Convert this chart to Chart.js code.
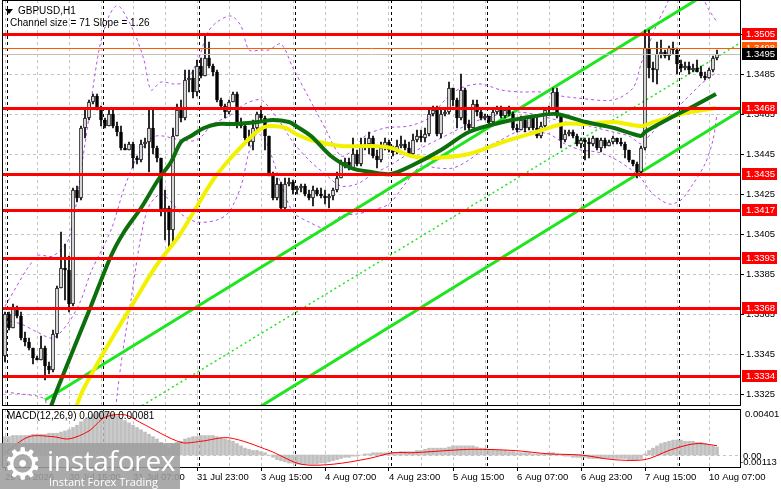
<!DOCTYPE html>
<html>
<head>
<meta charset="utf-8">
<title>GBPUSD H1</title>
<script src="https://cdn.jsdelivr.net/npm/chart.js@4.4.1/dist/chart.umd.min.js"></script>
<style>
  html, body { margin: 0; padding: 0; background: #fff; }
  #wrap { position: relative; width: 781px; height: 489px; overflow: hidden; font-family: "Liberation Sans", Arial, sans-serif; }
  canvas { position: absolute; left: 0; }
  #main { top: 0; }
  #macd { top: 407px; }
  .txt { position: absolute; font-size: 10px; line-height: 12px; color: #000; white-space: nowrap; }
  #tri { position: absolute; left: 5px; top: 9px; width: 0; height: 0; border-left: 4px solid transparent; border-right: 4px solid transparent; border-top: 5px solid #000; }
  #logo { position: absolute; left: 0; top: 443px; width: 180px; height: 46px; background: rgba(158,158,158,0.88); color: #fff; }
  #logo .gear { position: absolute; left: 3px; top: -4px; font-family: "DejaVu Sans"; font-size: 44px; line-height: 50px; }
  #logo .brand { position: absolute; left: 47px; top: 0px; font-family: "Open Sans"; font-size: 28px; line-height: 34px; letter-spacing: -0.3px; }
  #logo .slogan { position: absolute; left: 49px; top: 32px; font-family: "Open Sans"; font-size: 11px; line-height: 13px; }
</style>
</head>
<body>
<div id="wrap">
  <canvas id="main" width="781" height="407"></canvas>
  <canvas id="macd" width="781" height="82"></canvas>
  <div id="tri"></div>
  <div class="txt" style="left:18px;top:5px">GBPUSD,H1</div>
  <div class="txt" style="left:10px;top:17px">Channel size = 71 Slope = 1.26</div>
  <div class="txt" style="left:7px;top:410px">MACD(12,26,9) 0.00070 0.00081</div>
  <div id="logo">
    <div class="gear">&#9881;</div>
    <div class="brand">instaforex</div>
    <div class="slogan">Instant Forex Trading</div>
  </div>
</div>
<script>
// H1 candles, bar 0 = 29 Jul 23:00
const firstOpen = 1.3344;
const closes = [
  1.3365,1.3358,1.3368,1.3364,1.3353,1.3351,1.3348,1.3343,1.3342,1.3348,
  1.3339,1.3337,1.3355,1.3378,1.3388,1.3387,1.3370,1.3427,1.3423,1.3458,
  1.3463,1.3471,1.3474,1.3468,1.3462,1.3459,1.3465,1.3459,1.3456,1.3448,
  1.3447,1.3450,1.3443,1.3442,1.3450,1.3451,1.3458,1.3448,1.3443,1.3417,
  1.3418,1.3407,1.3454,1.3467,1.3463,1.3482,1.3483,1.3476,1.3489,1.3484,
  1.3493,1.3489,1.3486,1.3472,1.3469,1.3466,1.3471,1.3475,1.3460,1.3459,
  1.3453,1.3451,1.3458,1.3465,1.3463,1.3454,1.3435,1.3423,1.3430,1.3418,
  1.3430,1.3431,1.3427,1.3428,1.3429,1.3425,1.3423,1.3427,1.3425,1.3424,
  1.3423,1.3424,1.3427,1.3433,1.3440,1.3441,1.3438,1.3445,1.3440,1.3449,
  1.3450,1.3453,1.3444,1.3442,1.3448,1.3451,1.3447,1.3446,1.3449,1.3450,
  1.3448,1.3445,1.3452,1.3454,1.3453,1.3455,1.3465,1.3467,1.3455,1.3465,
  1.3466,1.3478,1.3472,1.3463,1.3477,1.3460,1.3458,1.3470,1.3466,1.3463,
  1.3464,1.3461,1.3466,1.3468,1.3464,1.3467,1.3465,1.3458,1.3457,1.3462,
  1.3458,1.3463,1.3458,1.3454,1.3459,1.3467,1.3468,1.3476,1.3464,1.3452,
  1.3455,1.3456,1.3454,1.3450,1.3452,1.3451,1.3450,1.3453,1.3448,1.3452,
  1.3449,1.3451,1.3453,1.3451,1.3450,1.3447,1.3442,1.3440,1.3436,1.3448,
  1.3498,1.3488,1.3487,1.3495,1.3496,1.3494,1.3498,1.3497,1.3490,1.3488,
  1.3489,1.3487,1.3488,1.3486,1.3484,1.3483,1.3487,1.3493,1.3495
];
const highs = [
  1.3366,1.3366,1.3370,1.3369,1.3366,1.3356,1.3353,1.3348,1.3344,1.3354,
  1.3349,1.3341,1.3357,1.3379,1.3406,1.3400,1.3394,1.3428,1.3429,1.3459,
  1.3467,1.3472,1.3475,1.3475,1.3469,1.3463,1.3468,1.3467,1.3461,1.3459,
  1.3450,1.3451,1.3451,1.3444,1.3452,1.3453,1.3467,1.3467,1.3449,1.3443,
  1.3427,1.3419,1.3458,1.3470,1.3472,1.3487,1.3487,1.3487,1.3492,1.3493,
  1.3505,1.3501,1.3490,1.3487,1.3473,1.3470,1.3472,1.3476,1.3476,1.3463,
  1.3460,1.3457,1.3462,1.3466,1.3469,1.3464,1.3452,1.3436,1.3433,1.3431,
  1.3433,1.3433,1.3432,1.3429,1.3430,1.3430,1.3427,1.3429,1.3428,1.3428,
  1.3427,1.3425,1.3428,1.3436,1.3442,1.3443,1.3443,1.3453,1.3447,1.3453,
  1.3453,1.3456,1.3454,1.3447,1.3451,1.3453,1.3452,1.3449,1.3452,1.3454,
  1.3452,1.3451,1.3455,1.3457,1.3457,1.3458,1.3468,1.3469,1.3469,1.3467,
  1.3468,1.3481,1.3477,1.3473,1.3485,1.3478,1.3462,1.3472,1.3472,1.3468,
  1.3465,1.3464,1.3467,1.3469,1.3469,1.3468,1.3469,1.3466,1.3460,1.3464,
  1.3463,1.3464,1.3464,1.3464,1.3461,1.3468,1.3469,1.3478,1.3478,1.3465,
  1.3457,1.3457,1.3457,1.3455,1.3453,1.3453,1.3453,1.3454,1.3453,1.3453,
  1.3453,1.3452,1.3454,1.3453,1.3453,1.3451,1.3447,1.3442,1.3441,1.3449,
  1.3507,1.3507,1.3491,1.3501,1.3502,1.3497,1.3499,1.3501,1.3498,1.3492,
  1.3491,1.3491,1.3490,1.3492,1.3489,1.3486,1.3488,1.3494,1.3497
];
const lows = [
  1.3341,1.3357,1.3358,1.3363,1.3352,1.3349,1.3347,1.3340,1.3342,1.3342,
  1.3332,1.3335,1.3336,1.3353,1.3378,1.3372,1.3366,1.3369,1.3421,1.3422,
  1.3453,1.3462,1.3470,1.3467,1.3459,1.3458,1.3459,1.3458,1.3454,1.3447,
  1.3447,1.3447,1.3438,1.3440,1.3441,1.3448,1.3436,1.3445,1.3441,1.3414,
  1.3402,1.3398,1.3401,1.3454,1.3461,1.3462,1.3476,1.3473,1.3474,1.3483,
  1.3484,1.3488,1.3484,1.3471,1.3468,1.3463,1.3465,1.3471,1.3458,1.3458,
  1.3452,1.3449,1.3447,1.3457,1.3462,1.3447,1.3434,1.3422,1.3422,1.3417,
  1.3417,1.3429,1.3425,1.3425,1.3426,1.3424,1.3422,1.3419,1.3424,1.3423,
  1.3420,1.3418,1.3422,1.3426,1.3433,1.3438,1.3437,1.3438,1.3439,1.3439,
  1.3447,1.3445,1.3443,1.3438,1.3441,1.3447,1.3446,1.3444,1.3445,1.3448,
  1.3447,1.3444,1.3444,1.3451,1.3451,1.3451,1.3454,1.3464,1.3454,1.3453,
  1.3464,1.3465,1.3469,1.3458,1.3462,1.3457,1.3457,1.3458,1.3464,1.3462,
  1.3462,1.3460,1.3460,1.3465,1.3463,1.3463,1.3464,1.3457,1.3456,1.3457,
  1.3456,1.3457,1.3457,1.3453,1.3453,1.3458,1.3465,1.3467,1.3463,1.3448,
  1.3451,1.3454,1.3453,1.3449,1.3448,1.3442,1.3443,1.3449,1.3447,1.3446,
  1.3448,1.3449,1.3450,1.3450,1.3449,1.3443,1.3441,1.3439,1.3433,1.3435,
  1.3447,1.3483,1.3481,1.3480,1.3493,1.3493,1.3492,1.3495,1.3485,1.3486,
  1.3487,1.3485,1.3486,1.3486,1.3483,1.3482,1.3483,1.3486,1.3492
];

// moving averages, sampled along the curves (bar index, price)
const maGreenIdx = [11,13,21.5,26.5,29.75,34,38.25,41.5,44,46.5,49.75,53.25,57.25,63.25,67,71,72.75,76.5,81.5,86.5,91.5,96.5,101.5,109,116,124.5,132.75,137.75,145.25,152.25,159,160,167.25,172.25,177.75];
const maGreenVal = [1.3316,1.3327,1.3369,1.3394,1.3406,1.3418,1.3432,1.3441,1.3451,1.3454,1.3458,1.3460,1.3460,1.3461,1.3462,1.3461,1.3459,1.3454,1.3444,1.3438,1.3436,1.3435,1.3439,1.3447,1.3456,1.3461,1.3464,1.3465,1.3461,1.3458,1.3454,1.3456,1.3464,1.3469,1.3475];
const maYellowIdx = [17.5,19.5,26.5,32.25,37.75,43.5,47.75,52,56,60.25,63.5,66,70.25,72.75,76.5,84,91.5,96.5,101.5,106.5,116,124.5,132.75,139.5,145.25,152.25,159,162.25,169,177.75];
const maYellowVal = [1.3317,1.3327,1.3352,1.3371,1.3389,1.3404,1.3418,1.3432,1.3442,1.3451,1.3457,1.3459,1.3458,1.3455,1.3452,1.3449,1.3449,1.3448,1.3444,1.3443,1.3445,1.3451,1.3456,1.3460,1.3460,1.3461,1.3459,1.3461,1.3465,1.3468];

// bollinger bands (purple dashed)
const bbUpperIdx = [0,8,12,16,20,23.5,26,27.75,29,32.25,34.75,36.5,39,42.25,45,48.25,50.75,53,56.5,59,61,64,66,69,72,76,80,84,87,90,95,101,106,110,114,119,124,129,134,139,143,152,157,159,161,163,165,167,171,174,176,178];
const bbUpperVal = [1.3369,1.3394,1.3394,1.3403,1.3450,1.3497,1.3514,1.3519,1.3518,1.3506,1.3492,1.3477,1.3481,1.3480,1.3481,1.3492,1.3506,1.3511,1.3514,1.3509,1.3497,1.3497,1.3497,1.3500,1.3488,1.3473,1.3458,1.3444,1.3447,1.3454,1.3458,1.3459,1.3463,1.3472,1.3478,1.3480,1.3477,1.3476,1.3476,1.3474,1.3473,1.3472,1.3478,1.3490,1.3500,1.3510,1.3518,1.3525,1.3527,1.3524,1.3517,1.3511];
const bbMidIdx = [0,4,8,12,16,19,21.5,26.5,30,34,37.75,44,48,52,56,60,64,68,72,76,80,84,88,92,96,100,104,108,112,116,120,124,128,132,136,140,144,148,152,156,159,160,162,164,166,168,170,172,174,176,178];
const bbMidVal = [1.3362,1.3360,1.3356,1.3353,1.3361,1.3372,1.3386,1.3407,1.3429,1.3447,1.3454,1.3452,1.3452,1.3460,1.3464,1.3470,1.3472,1.3463,1.3451,1.3442,1.3435,1.3429,1.3430,1.3435,1.3439,1.3444,1.3448,1.3452,1.3456,1.3460,1.3463,1.3465,1.3466,1.3465,1.3463,1.3461,1.3460,1.3458,1.3456,1.3454,1.3450,1.3452,1.3456,1.3461,1.3465,1.3468,1.3472,1.3476,1.3480,1.3483,1.3486];
const bbLowerIdx = [0,4,8,10,12,16,22,26,28,29.5,31.5,34,36,39,42,44,48,53,56,59,61,63,65,67,69,72,76,80,84,88,92,96,100,104,108,112,116,120,124,128,132,136,140,144,148,152,156,159,160,162,166,169,172,175,177,178];
const bbLowerVal = [1.3326,1.3325,1.3324,1.3322,1.3307,1.3287,1.3262,1.3282,1.3324,1.3347,1.3372,1.3404,1.3419,1.3425,1.3420,1.3415,1.3411,1.3412,1.3416,1.3429,1.3446,1.3455,1.3452,1.3442,1.3430,1.3416,1.3411,1.3408,1.3414,1.3415,1.3417,1.3420,1.3430,1.3439,1.3438,1.3438,1.3442,1.3448,1.3452,1.3456,1.3456,1.3455,1.3450,1.3447,1.3446,1.3443,1.3438,1.3433,1.3430,1.3425,1.3420,1.3422,1.3430,1.3440,1.3452,1.3465];

// regression channel end points (bar index, price)
const chanIdx = [10, 185];
const chanUpper = [1.3322, 1.3537];
const chanMidIdx = [30, 185];
const chanMid = [1.3314, 1.3502];
const chanLowIdx = [60, 185];
const chanLower = [1.3314, 1.3468];

// horizontal levels
const redLevels = [1.3505, 1.3468, 1.3435, 1.3417, 1.3393, 1.3368, 1.3334];
const orangeLevel = 1.3498;
const bidLevel = 1.3495;
const priceTicks = [1.3325, 1.3345, 1.3365, 1.3385, 1.3405, 1.3425, 1.3445, 1.3465, 1.3485, 1.3505];

// MACD(12,26,9)
const macdHist = [
  0.0016,0.0016,0.0017,0.0017,0.0017,0.0017,0.0017,0.0018,0.0018,0.0018,
  0.0018,0.0019,0.0019,0.0019,0.0020,0.0021,0.0022,0.0024,0.0026,0.0029,
  0.0031,0.0033,0.0035,0.0037,0.0038,0.0038,0.0037,0.0036,0.0034,0.0032,
  0.0030,0.0028,0.0026,0.0024,0.0022,0.0020,0.0018,0.0016,0.0014,0.0011,
  0.0008,0.0006,0.0009,0.0011,0.0012,0.0014,0.0015,0.0016,0.0016,0.0017,
  0.0017,0.0017,0.0017,0.0016,0.0015,0.0014,0.0013,0.0012,0.0010,0.0008,
  0.0006,0.0005,0.0004,0.0004,0.0003,0.0002,0.0000,-0.0002,-0.0004,-0.0005,
  -0.0006,-0.0007,-0.0007,-0.0008,-0.0008,-0.0008,-0.0008,-0.0008,-0.0008,-0.0007,
  -0.0007,-0.0006,-0.0005,-0.0004,-0.0003,-0.0002,-0.0002,-0.0001,-0.0001,0.0000,
  0.0001,0.0001,0.0002,0.0002,0.0002,0.0002,0.0002,0.0002,0.0002,0.0003,
  0.0003,0.0003,0.0003,0.0004,0.0004,0.0005,0.0006,0.0006,0.0006,0.0006,
  0.0006,0.0007,0.0008,0.0008,0.0008,0.0008,0.0008,0.0008,0.0007,0.0006,
  0.0006,0.0005,0.0005,0.0004,0.0004,0.0004,0.0003,0.0003,0.0002,0.0002,
  0.0002,0.0002,0.0001,0.0001,0.0001,0.0001,0.0002,0.0002,0.0001,0.0000,
  -0.0001,-0.0001,-0.0002,-0.0002,-0.0002,-0.0002,-0.0003,-0.0003,-0.0003,-0.0003,
  -0.0003,-0.0003,-0.0003,-0.0003,-0.0003,-0.0003,-0.0004,-0.0004,-0.0004,-0.0003,
  0.0001,0.0004,0.0006,0.0008,0.0010,0.0011,0.0012,0.0013,0.0013,0.0013,
  0.0012,0.0012,0.0012,0.0011,0.0011,0.0010,0.0009,0.0008,0.0007
];
const signalIdx = [0,6,12,16,21,25,30,34,44,49,56,66,74,82,91,97,102,111,117,127,136,144,152,160,166,171,174,178];
const signalVal = [0.0002,0.0016,0.0016,0.0014,0.0021,0.0033,0.0035,0.0028,0.0011,0.0012,0.0015,0.0004,-0.0008,-0.0008,-0.0003,0.0002,0.0002,0.0004,0.0005,0.0004,0.0001,0.0000,-0.0004,-0.0004,0.0004,0.0009,0.0010,0.00081];
const macdMin = -0.00113, macdMax = 0.00401;

// time axis
const gridIdx = [0,8,16,24,32,40,48,56,64,72,80,88,96,104,112,120,128,136,144,152,160,168,176];
const labelIdx = [0,16,32,48,64,80,96,112,128,144,160,176];
const labelText = ['29 Jul 2026','30 Jul 15:00','31 Jul 07:00','31 Jul 23:00','3 Aug 15:00','4 Aug 07:00','4 Aug 23:00','5 Aug 15:00','6 Aug 07:00','6 Aug 23:00','7 Aug 15:00','10 Aug 07:00'];
const daySeparators = [1,25,49,73,97,121,145,169];

const xMin = -0.5, xMax = 183.75;
const FONT = '"Liberation Sans", Arial, sans-serif';
Chart.defaults.font.family = FONT;

const pts = (xs, ys) => xs.map((x, k) => ({ x: x, y: ys[k] }));
const opens = closes.map((c, i) => i === 0 ? firstOpen : closes[i - 1]);
const bodies = closes.map((c, i) => ({ x: i, y: [opens[i], c] }));
const wicks = closes.map((c, i) => ({ x: i, y: [Math.min(lows[i], opens[i], c), Math.max(highs[i], opens[i], c)] }));
const bodyColors = closes.map((c, i) => c >= opens[i] ? '#ffffff' : '#000000');

function drawSeparators(chart) {
  const { ctx, chartArea: a, scales: { x } } = chart;
  ctx.save();
  ctx.strokeStyle = '#000';
  ctx.lineWidth = 1;
  ctx.setLineDash([3, 3]);
  daySeparators.forEach(i => {
    const px = Math.round(x.getPixelForValue(i - 0.5)) + 0.5;
    ctx.beginPath();
    ctx.moveTo(px, a.top);
    ctx.lineTo(px, a.bottom);
    ctx.stroke();
  });
  ctx.restore();
}

function drawFrame(chart) {
  const { ctx, chartArea: a } = chart;
  ctx.save();
  ctx.strokeStyle = '#000';
  ctx.lineWidth = 1;
  ctx.strokeRect(a.left - 0.5, a.top + 0.5, a.right - a.left + 1, a.bottom - a.top - 1);
  ctx.restore();
}

function axisBox(ctx, py, text, bg, fg) {
  const y0 = Math.round(py);
  ctx.fillStyle = bg;
  ctx.fillRect(742, y0 - 6, 35, 12);
  ctx.fillStyle = fg;
  ctx.font = '9.5px ' + FONT;
  ctx.textAlign = 'left';
  ctx.textBaseline = 'middle';
  ctx.fillText(text, 746, y0 + 0.5);
}

const mainDecor = {
  id: 'mainDecor',
  beforeDatasetsDraw(chart) { drawSeparators(chart); },
  afterDatasetsDraw(chart) {
    const { ctx, chartArea: a, scales: { y } } = chart;
    ctx.save();
    const hline = (v, color, w) => {
      const py = Math.round(y.getPixelForValue(v)) + (w % 2 ? 0.5 : 0);
      ctx.strokeStyle = color;
      ctx.lineWidth = w;
      ctx.beginPath();
      ctx.moveTo(a.left, py);
      ctx.lineTo(a.right, py);
      ctx.stroke();
    };
    hline(bidLevel, '#c0c0c0', 1);
    hline(orangeLevel, '#ff5a00', 1);
    redLevels.forEach(v => hline(v, '#ff0000', 3));
    ctx.restore();
    drawFrame(chart);
  },
  afterDraw(chart) {
    const { ctx, scales: { y } } = chart;
    ctx.save();
    axisBox(ctx, y.getPixelForValue(orangeLevel), orangeLevel.toFixed(4), '#ff5a00', '#fff');
    axisBox(ctx, y.getPixelForValue(bidLevel), bidLevel.toFixed(4), '#000', '#fff');
    redLevels.forEach(v => axisBox(ctx, y.getPixelForValue(v), v.toFixed(4), '#ff0000', '#fff'));
    ctx.restore();
  }
};

const lineDs = (data, color, width, order, dash) => ({
  type: 'line', data: data, borderColor: color, borderWidth: width, borderDash: dash || [],
  pointRadius: 0, tension: 0.3, fill: false, order: order
});

new Chart(document.getElementById('main'), {
  type: 'bar',
  data: {
    datasets: [
      lineDs(pts(bbUpperIdx, bbUpperVal), '#b450e6', 1, 8, [3, 3]),
      lineDs(pts(bbMidIdx, bbMidVal), '#b450e6', 1, 8, [3, 3]),
      lineDs(pts(bbLowerIdx, bbLowerVal), '#b450e6', 1, 8, [3, 3]),
      Object.assign(lineDs(pts(chanIdx, chanUpper), '#1ee61e', 3, 7), { tension: 0 }),
      Object.assign(lineDs(pts(chanMidIdx, chanMid), '#1ee61e', 1.5, 7, [2, 3]), { tension: 0 }),
      Object.assign(lineDs(pts(chanLowIdx, chanLower), '#1ee61e', 3, 7), { tension: 0 }),
      { data: wicks, backgroundColor: '#000', borderWidth: 0, barThickness: 1, grouped: false, order: 5 },
      { data: bodies, backgroundColor: bodyColors, borderColor: '#000', borderWidth: 1, borderSkipped: false,
        barThickness: 3, minBarLength: 1, grouped: false, order: 4 },
      lineDs(pts(maYellowIdx, maYellowVal), '#f2f200', 4, 2),
      lineDs(pts(maGreenIdx, maGreenVal), '#0c6e0c', 4, 1)
    ]
  },
  options: {
    responsive: false, animation: false, devicePixelRatio: 1,
    layout: { padding: { left: 3, top: 0, right: 0, bottom: 1 } },
    plugins: { legend: { display: false }, tooltip: { enabled: false } },
    scales: {
      x: {
        type: 'linear', min: xMin, max: xMax, offset: false,
        grid: { color: '#c4c4c4', drawTicks: false, offset: false },
        border: { display: false, dash: [3, 3] },
        ticks: { display: false },
        afterBuildTicks: s => { s.ticks = gridIdx.map(v => ({ value: v })); },
        afterFit: s => { s.height = 0; s.paddingLeft = 0; s.paddingRight = 0; }
      },
      y: {
        position: 'right', min: 1.3319, max: 1.3522,
        grid: { color: '#c4c4c4', drawTicks: true, tickLength: 4, tickColor: '#000' },
        border: { display: false, dash: [3, 3] },
        ticks: { color: '#000', font: { size: 9.5 }, padding: 2, callback: v => Number(v).toFixed(4) },
        afterBuildTicks: s => { s.ticks = priceTicks.map(v => ({ value: v })); },
        afterFit: s => { s.width = 41; s.paddingTop = 0; s.paddingBottom = 0; }
      }
    }
  },
  plugins: [mainDecor]
});

const macdDecor = {
  id: 'macdDecor',
  beforeDatasetsDraw(chart) {
    drawSeparators(chart);
    const { ctx, chartArea: a, scales: { y } } = chart;
    ctx.save();
    ctx.strokeStyle = '#c4c4c4';
    ctx.setLineDash([3, 3]);
    const py = Math.round(y.getPixelForValue(0)) + 0.5;
    ctx.beginPath(); ctx.moveTo(a.left, py); ctx.lineTo(a.right, py); ctx.stroke();
    ctx.restore();
  },
  afterDraw(chart) {
    drawFrame(chart);
    const { ctx, chartArea: a, scales: { y } } = chart;
    ctx.save();
    ctx.fillStyle = '#000';
    ctx.font = '9.5px ' + FONT;
    ctx.textAlign = 'left';
    ctx.textBaseline = 'middle';
    ctx.fillText(macdMax.toFixed(5), 745, a.top + 5);
    ctx.fillText('0.00', 743, y.getPixelForValue(0) + 1);
    ctx.fillText(macdMin.toFixed(5), 740, a.bottom - 6);
    ctx.restore();
  }
};

new Chart(document.getElementById('macd'), {
  type: 'bar',
  data: {
    datasets: [
      lineDs(pts(signalIdx, signalVal), '#ff0000', 1, 1),
      { data: macdHist.map((v, i) => ({ x: i, y: v })), backgroundColor: '#c0c0c0', borderWidth: 0,
        barThickness: 3, grouped: false, order: 2 }
    ]
  },
  options: {
    responsive: false, animation: false, devicePixelRatio: 1,
    layout: { padding: { left: 3, top: 2, right: 0, bottom: 0 } },
    plugins: { legend: { display: false }, tooltip: { enabled: false } },
    scales: {
      x: {
        type: 'linear', min: xMin, max: xMax, offset: false,
        grid: { color: '#c4c4c4', drawTicks: true, tickLength: 3, offset: false,
                tickColor: c => labelIdx.includes(c.tick && c.tick.value) ? '#000' : 'rgba(0,0,0,0)' },
        border: { display: false, dash: [3, 3] },
        ticks: {
          color: '#000', font: { size: 9.5 }, padding: 1, align: 'start', maxRotation: 0, autoSkip: false,
          callback: v => { const k = labelIdx.indexOf(v); return k >= 0 ? labelText[k] : ''; }
        },
        afterBuildTicks: s => { s.ticks = gridIdx.map(v => ({ value: v })); },
        afterFit: s => { s.height = 21; s.paddingLeft = 0; s.paddingRight = 0; }
      },
      y: {
        position: 'right', min: macdMin, max: macdMax,
        grid: { display: false }, border: { display: false },
        ticks: { display: false },
        afterFit: s => { s.width = 41; s.paddingTop = 0; s.paddingBottom = 0; }
      }
    }
  },
  plugins: [macdDecor]
});
</script>
</body>
</html>
